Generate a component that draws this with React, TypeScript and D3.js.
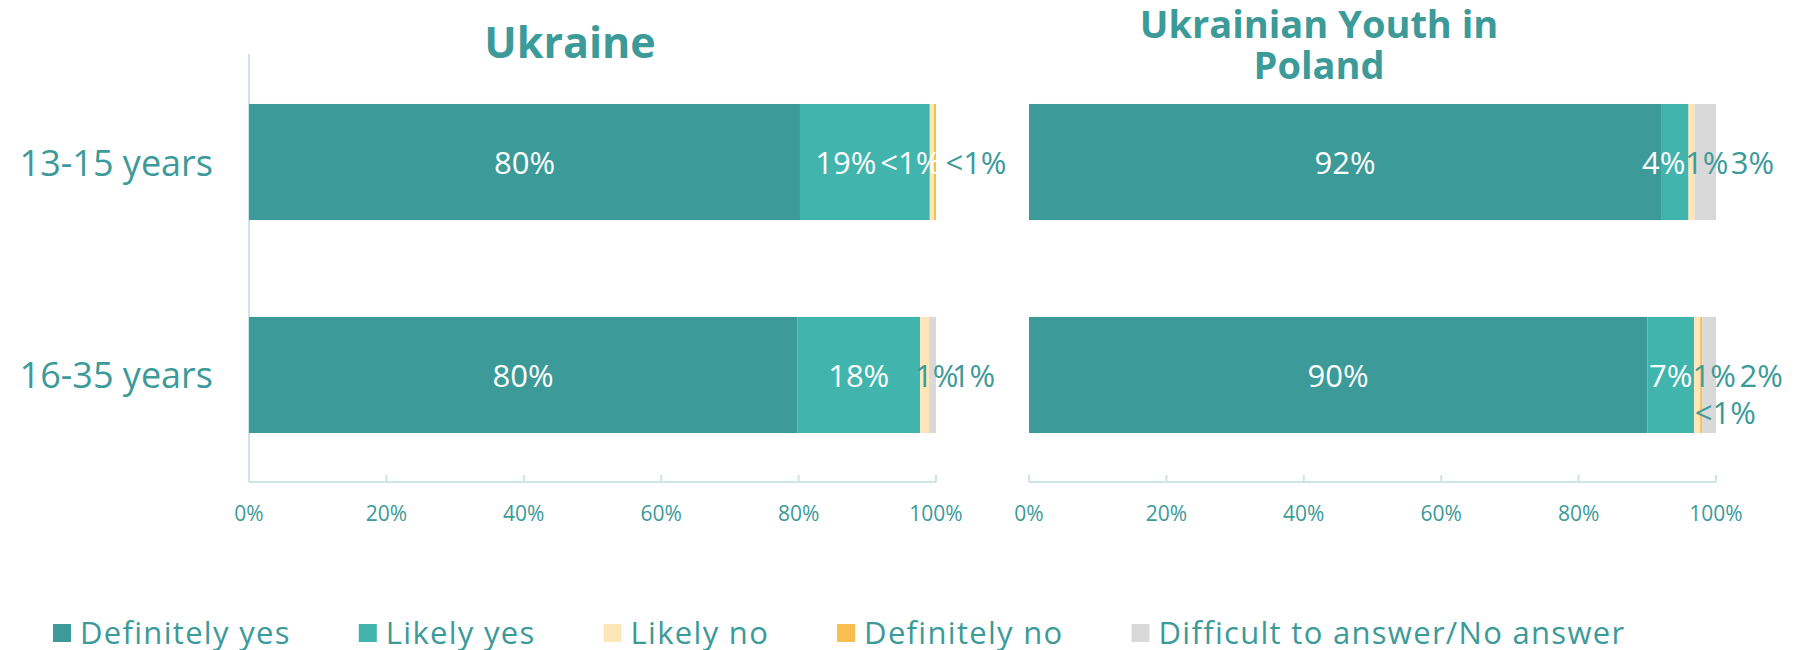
import React, { useEffect, useRef } from 'react';
import * as d3 from 'd3';

const SERIES = ['Definitely yes', 'Likely yes', 'Likely no', 'Definitely no', 'Difficult to answer/No answer'];
const COLORS = ['#3c9a98', '#40b4ad', '#ffe6b9', '#f7bf4f', '#d9d9d9'];
const AGE_GROUPS = ['13-15 years', '16-35 years'];
const TICKS = [0, 20, 40, 60, 80, 100];

// share of answers per age group, in series order
const UKRAINE = [
  [80.2, 18.9, 0.6, 0.3, 0],
  [79.8, 17.9, 1.3, 0, 1.0],
];
const POLAND = [
  [92.0, 4.0, 0.9, 0, 3.1],
  [90.0, 6.8, 0.9, 0.3, 2.0],
];

const UKRAINE_LABELS = [
  ['80%', '19%', '<1%', '<1%', ''],
  ['80%', '18%', '1%', '', '1%'],
];
const POLAND_LABELS = [
  ['92%', '4%', '1%', '', '3%'],
  ['90%', '7%', '1%', '<1%', '2%'],
];

// hand offsets for the small labels, like the dragged labels of the original
const UKRAINE_NUDGE = [
  [[0, 0], [-19, 0], [-21, 0], [41, 0], [0, 0]],
  [[0, 0], [0, 0], [12, 0], [0, 0], [41, 0]],
];
const POLAND_NUDGE = [
  [[0, 0], [-11, 0], [15, 0], [0, 0], [47, 0]],
  [[0, 0], [0, 0], [17, 0], [24, 37], [52, 0]],
];

const TEAL = '#3c9a98';
const AXIS = '#cfe5e5';
const FONT = "'Open Sans', 'DejaVu Sans', sans-serif";

export default function App() {
  const svgRef = useRef<SVGSVGElement | null>(null);

  useEffect(() => {
    document.body.style.margin = '0';
    const width = 1799;
    const height = 650;
    const svg = d3.select(svgRef.current);
    svg.attr('width', width).attr('height', height);
    svg.selectAll('*').remove();

    const y = d3
      .scaleBand<string>()
      .domain(AGE_GROUPS)
      .range([55, 482])
      .paddingInner(0.455)
      .paddingOuter(0.23);

    const panels = [
      { data: UKRAINE, labels: UKRAINE_LABELS, nudge: UKRAINE_NUDGE, x0: 249, x1: 936, axisLine: true },
      { data: POLAND, labels: POLAND_LABELS, nudge: POLAND_NUDGE, x0: 1029, x1: 1716, axisLine: false },
    ];

    panels.forEach((p) => {
      const x = d3.scaleLinear().domain([0, 100]).range([p.x0, p.x1]);
      const g = svg.append('g');

      if (p.axisLine) {
        g.append('line')
          .attr('x1', x(0))
          .attr('x2', x(0))
          .attr('y1', 54)
          .attr('y2', 482)
          .attr('stroke', AXIS)
          .attr('stroke-width', 2);
      }

      AGE_GROUPS.forEach((grp, gi) => {
        const vals = p.data[gi];
        const by = y(grp) as number;
        const bh = y.bandwidth();
        let acc = 0;
        const segs = vals.map((v) => {
          const s = { a: acc, b: acc + v };
          acc += v;
          return s;
        });
        segs.forEach((s, si) => {
          if (s.b - s.a <= 0) return;
          g.append('rect')
            .attr('x', x(s.a))
            .attr('y', by)
            .attr('width', x(s.b) - x(s.a))
            .attr('height', bh)
            .attr('fill', COLORS[si]);
        });
        segs.forEach((s, si) => {
          const txt = p.labels[gi][si];
          if (!txt) return;
          const [dx, dy] = p.nudge[gi][si];
          const cx = x((s.a + s.b) / 2) + dx;
          // white when the label sits over one of the two dark segments
          const onDark = cx >= x(segs[0].a) && cx <= x(segs[1].b);
          g.append('text')
            .attr('x', cx)
            .attr('y', by + bh / 2 + dy)
            .attr('text-anchor', 'middle')
            .attr('dominant-baseline', 'central')
            .attr('font-family', FONT)
            .attr('font-size', 31)
            .attr('fill', onDark ? '#ffffff' : TEAL)
            .text(txt);
        });
      });

      // bottom axis
      g.append('line')
        .attr('x1', x(0))
        .attr('x2', x(100))
        .attr('y1', 482)
        .attr('y2', 482)
        .attr('stroke', AXIS)
        .attr('stroke-width', 2);
      TICKS.forEach((t) => {
        g.append('line')
          .attr('x1', x(t))
          .attr('x2', x(t))
          .attr('y1', 475)
          .attr('y2', 482)
          .attr('stroke', AXIS)
          .attr('stroke-width', 2);
        g.append('text')
          .attr('x', x(t))
          .attr('y', 513)
          .attr('text-anchor', 'middle')
          .attr('dominant-baseline', 'central')
          .attr('font-family', FONT)
          .attr('font-size', 21)
          .attr('fill', TEAL)
          .text(`${t}%`);
      });
    });

    // category labels
    AGE_GROUPS.forEach((grp) => {
      svg
        .append('text')
        .attr('x', 213)
        .attr('y', (y(grp) as number) + y.bandwidth() / 2)
        .attr('text-anchor', 'end')
        .attr('dominant-baseline', 'central')
        .attr('font-family', FONT)
        .attr('font-size', 36)
        .attr('fill', TEAL)
        .text(grp);
    });

    // titles
    svg
      .append('text')
      .attr('x', 570)
      .attr('y', 58)
      .attr('text-anchor', 'middle')
      .attr('font-family', FONT)
      .attr('font-weight', 700)
      .attr('font-size', 43)
      .attr('fill', TEAL)
      .text('Ukraine');
    const t2 = svg
      .append('text')
      .attr('text-anchor', 'middle')
      .attr('font-family', FONT)
      .attr('font-weight', 700)
      .attr('font-size', 38)
      .attr('fill', TEAL);
    t2.append('tspan').attr('x', 1319).attr('y', 38).text('Ukrainian Youth in');
    t2.append('tspan').attr('x', 1319).attr('y', 79).text('Poland');

    // legend, laid out left to right
    let lx = 53;
    SERIES.forEach((s, i) => {
      svg
        .append('rect')
        .attr('x', lx)
        .attr('y', 624)
        .attr('width', 18)
        .attr('height', 18)
        .attr('fill', COLORS[i]);
      const txt = svg
        .append('text')
        .attr('x', lx + 27)
        .attr('y', 632)
        .attr('dominant-baseline', 'central')
        .attr('font-family', FONT)
        .attr('font-size', 31)
        .attr('letter-spacing', 1.3)
        .attr('fill', TEAL)
        .text(s);
      const w = (txt.node() as SVGTextElement).getComputedTextLength();
      lx += 27 + w + 68;
    });
  }, []);

  return <svg ref={svgRef} style={{ display: 'block' }} />;
}
